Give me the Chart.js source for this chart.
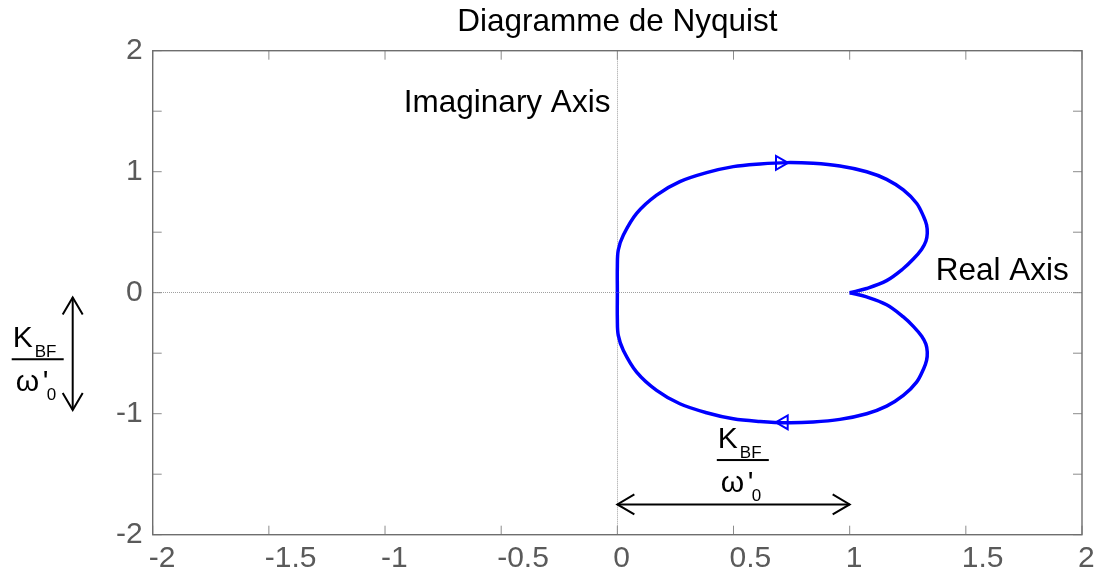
<!DOCTYPE html>
<html>
<head>
<meta charset="utf-8">
<script src="https://cdn.jsdelivr.net/npm/chart.js@4"></script>
<style>
  html, body { margin: 0; padding: 0; background: #fff; }
  #wrap { width: 1106px; height: 572px; }
</style>
</head>
<body>
<div id="wrap"><canvas id="nyquist" width="1106" height="572"></canvas></div>
<script>
const FONT = "'Liberation Sans', Arial, Helvetica, sans-serif";

// upper branch, from the origin round the top back to (1, 0)
const upperRe = [0, 0, 0.004, 0.026, 0.083, 0.169, 0.269, 0.384, 0.499, 0.614, 0.729, 0.843, 0.958,
  1.073, 1.159, 1.231, 1.288, 1.318, 1.331, 1.334, 1.328, 1.310, 1.275, 1.231, 1.159, 1.073, 1.0];
const upperIm = [0, 0.215, 0.353, 0.477, 0.656, 0.807, 0.918, 0.992, 1.042, 1.064, 1.075, 1.069, 1.047,
  1.000, 0.937, 0.849, 0.739, 0.630, 0.560, 0.490, 0.425, 0.360, 0.280, 0.200, 0.100, 0.035, 0];

// lower branch, from (1, 0) round the bottom back to the origin
const lowerRe = [1.0, 1.073, 1.159, 1.231, 1.275, 1.310, 1.328, 1.334, 1.331, 1.318, 1.288, 1.231, 1.159,
  1.073, 0.958, 0.843, 0.729, 0.614, 0.499, 0.384, 0.269, 0.169, 0.083, 0.026, 0.004, 0, 0];
const lowerIm = [0, -0.035, -0.100, -0.200, -0.280, -0.360, -0.425, -0.490, -0.560, -0.630, -0.739, -0.849, -0.937,
  -1.000, -1.047, -1.069, -1.075, -1.064, -1.042, -0.992, -0.918, -0.807, -0.656, -0.477, -0.353, -0.215, 0];

// direction arrows on the curve
const arrowRe = [0.70, 0.716];
const arrowIm = [1.073, -1.071];
const arrowAngle = [90, -90];

const xTicks = [-2, -1.5, -1, -0.5, 0, 0.5, 1, 1.5, 2];
const yTickLabels = ['-2', '-1', '0', '1', '2'];

const toPoints = (re, im) => re.map((v, i) => ({ x: v, y: im[i] }));

function arrowHead(ctx, x, y, ang) {
  const len = 17, half = 10;
  const c = Math.cos(ang), s = Math.sin(ang);
  ctx.beginPath();
  ctx.moveTo(x - len * c + half * s, y - len * s - half * c);
  ctx.lineTo(x, y);
  ctx.lineTo(x - len * c - half * s, y - len * s + half * c);
  ctx.stroke();
}

function doubleArrow(ctx, x1, y1, x2, y2) {
  ctx.beginPath();
  ctx.moveTo(x1, y1);
  ctx.lineTo(x2, y2);
  ctx.stroke();
  const a = Math.atan2(y2 - y1, x2 - x1);
  arrowHead(ctx, x2, y2, a);
  arrowHead(ctx, x1, y1, a + Math.PI);
}

function fraction(ctx, cx, barY) {
  ctx.textAlign = 'left';
  ctx.textBaseline = 'alphabetic';
  ctx.font = '30px ' + FONT;
  ctx.fillText('K', cx - 25, barY - 12);
  ctx.fillText('\u03c9', cx - 22, barY + 32);
  ctx.fillText("'", cx + 5, barY + 32);
  ctx.font = '17px ' + FONT;
  ctx.fillText('BF', cx - 3, barY - 2);
  ctx.fillText('0', cx + 9, barY + 41);
  ctx.fillRect(cx - 26, barY - 1, 52, 2);
}

const frame = {
  id: 'frame',
  afterDraw(chart) {
    const { ctx, chartArea: a, scales: { x, y } } = chart;
    ctx.save();
    // inward tick marks on all four sides
    ctx.strokeStyle = '#8c8c8c';
    ctx.lineWidth = 1;
    ctx.beginPath();
    x.ticks.forEach(t => {
      const px = x.getPixelForValue(t.value);
      ctx.moveTo(px, a.bottom); ctx.lineTo(px, a.bottom - 9);
      ctx.moveTo(px, a.top); ctx.lineTo(px, a.top + 9);
    });
    y.ticks.forEach(t => {
      const py = y.getPixelForValue(t.value);
      ctx.moveTo(a.left, py); ctx.lineTo(a.left + 9, py);
      ctx.moveTo(a.right, py); ctx.lineTo(a.right - 9, py);
    });
    ctx.stroke();
    ctx.strokeStyle = '#6e6e6e';
    ctx.lineWidth = 1.4;
    ctx.strokeRect(a.left, a.top, a.right - a.left, a.bottom - a.top);

    // annotations
    ctx.fillStyle = '#000';
    ctx.strokeStyle = '#000';
    ctx.lineWidth = 2;
    ctx.font = '31.5px ' + FONT;
    ctx.textBaseline = 'alphabetic';
    ctx.textAlign = 'right';
    ctx.fillText('Imaginary Axis', x.getPixelForValue(-0.03), y.getPixelForValue(1.493));
    ctx.textAlign = 'left';
    ctx.fillText('Real Axis', x.getPixelForValue(1.37), y.getPixelForValue(0.105));

    fraction(ctx, x.getPixelForValue(0.54), y.getPixelForValue(-1.383));
    doubleArrow(ctx, x.getPixelForValue(0), y.getPixelForValue(-1.75), x.getPixelForValue(1), y.getPixelForValue(-1.75));

    fraction(ctx, a.left - 115, y.getPixelForValue(-0.55));
    doubleArrow(ctx, a.left - 80, y.getPixelForValue(-0.04), a.left - 80, y.getPixelForValue(-0.97));
    ctx.restore();
  }
};

const zeroOnly = c => (c.tick && c.tick.value === 0) ? '#a0a0a0' : 'rgba(0,0,0,0)';

new Chart(document.getElementById('nyquist'), {
  type: 'scatter',
  data: {
    datasets: [{
      data: toPoints(lowerRe, lowerIm),
      showLine: true,
      borderColor: '#0000ff',
      borderWidth: 3.5,
      pointRadius: 0,
      tension: 0.35
    }, {
      data: toPoints(upperRe, upperIm),
      showLine: true,
      borderColor: '#0000ff',
      borderWidth: 3.5,
      pointRadius: 0,
      tension: 0.35
    }, {
      data: toPoints(arrowRe, arrowIm),
      showLine: false,
      pointStyle: 'triangle',
      rotation: arrowAngle,
      pointRadius: 8,
      borderWidth: 2,
      borderColor: '#0000ff',
      backgroundColor: 'rgba(0,0,0,0)'
    }]
  },
  options: {
    responsive: false,
    animation: false,
    layout: { padding: { left: 0, right: 24, top: 0, bottom: 0 } },
    plugins: {
      legend: { display: false },
      tooltip: { enabled: false },
      title: {
        display: true,
        text: 'Diagramme de Nyquist',
        color: '#000',
        fullSize: false,
        font: { family: FONT, size: 31.5, weight: 'normal' },
        padding: { top: 3.5, bottom: 9.4 }
      }
    },
    scales: {
      x: {
        type: 'linear',
        min: -2,
        max: 2,
        afterBuildTicks: s => { s.ticks = xTicks.map(v => ({ value: v })); },
        afterFit: s => { s.height = 37.3; },
        grid: { color: zeroOnly, lineWidth: 1, drawTicks: false },
        border: { display: false, dash: [1, 1] },
        ticks: {
          align: 'start',
          labelOffset: -4,
          padding: 6,
          color: '#5a5a5a',
          font: { family: FONT, size: 30 },
          callback: v => String(v)
        }
      },
      y: {
        type: 'linear',
        min: -2,
        max: 2,
        afterBuildTicks: s => {
          s.ticks = [];
          for (let v = -2; v <= 2.001; v += 0.5) s.ticks.push({ value: v });
        },
        afterFit: s => { s.width = 152.7; },
        grid: { color: zeroOnly, lineWidth: 1, drawTicks: false },
        border: { display: false, dash: [1, 1] },
        ticks: {
          padding: 10,
          color: '#5a5a5a',
          font: { family: FONT, size: 30 },
          callback: v => Number.isInteger(v) ? yTickLabels[v + 2] : ''
        }
      }
    }
  },
  plugins: [frame]
});
</script>
</body>
</html>
